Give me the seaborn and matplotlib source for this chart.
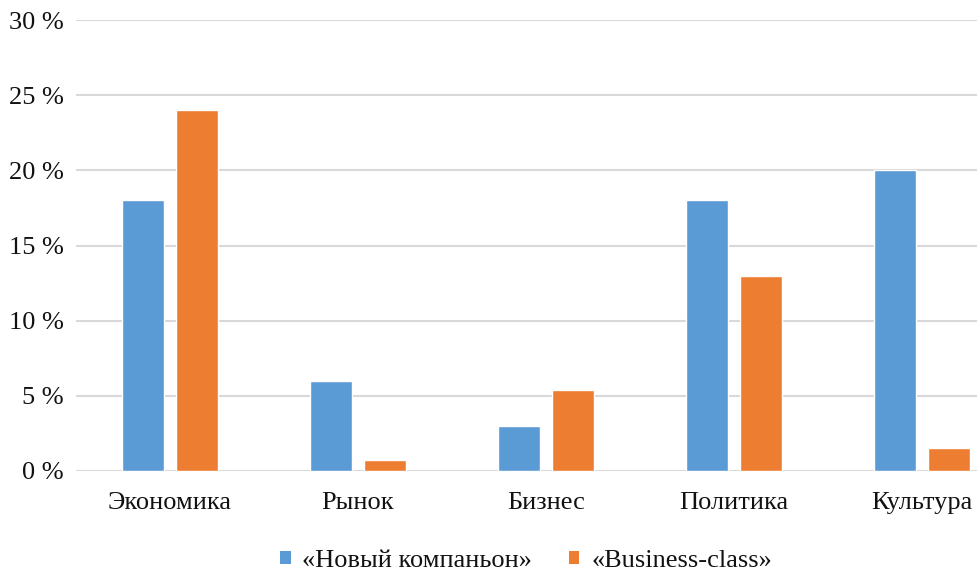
import matplotlib
matplotlib.use("Agg")
import matplotlib.pyplot as plt
import seaborn as sns
import pandas as pd
from matplotlib.patches import Patch

categories = ["Экономика", "Рынок", "Бизнес", "Политика", "Культура"]
series_names = ["«Новый компаньон»", "«Business-class»"]
novyi_kompanion = [18.0, 6.0, 3.0, 18.0, 20.0]
business_class = [24.0, 0.7, 5.4, 13.0, 1.5]
y_ticks = [0, 5, 10, 15, 20, 25, 30]
y_tick_labels = [f"{t} %" for t in y_ticks]
colors = ["#5B9BD5", "#ED7D31"]

df = pd.DataFrame({
    "category": categories * 2,
    "series": [series_names[0]] * len(categories) + [series_names[1]] * len(categories),
    "value": novyi_kompanion + business_class,
})

sns.set_style("white")
plt.rcParams["font.family"] = ["Liberation Serif", "DejaVu Serif"]

fig = plt.figure(figsize=(9.78, 5.75), dpi=100)
ax = fig.add_axes([0.0777, 0.181, 0.961, 0.784])

sns.barplot(data=df, x="category", y="value", hue="series", order=categories,
            hue_order=series_names, palette=colors, width=0.58, gap=0.23,
            edgecolor="white", linewidth=1.0, saturation=1, legend=False, ax=ax)

ax.set_xlim(-0.5, 4.5)
ax.set_ylim(0, 30)
ax.set_yticks(y_ticks)
ax.set_yticklabels(y_tick_labels)
ax.yaxis.grid(True, color="#d9d9d9", linewidth=1.5)
ax.set_axisbelow(True)
for s in ax.spines.values():
    s.set_visible(False)
ax.tick_params(axis="both", length=0, labelsize=19, colors="#111111")
ax.tick_params(axis="y", pad=9)
ax.tick_params(axis="x", pad=15)
ax.set_xlabel("")
ax.set_ylabel("")

handles = [Patch(facecolor=c, edgecolor="none") for c in colors]
fig.legend(handles, series_names, loc="center", bbox_to_anchor=(0.538, 0.025),
           ncol=2, frameon=False, fontsize=19, handlelength=0.38, handleheight=0.38,
           handletextpad=0.45, columnspacing=1.4, labelcolor="#111111",
           borderpad=0.0)

fig.savefig("out.png", dpi=100)
